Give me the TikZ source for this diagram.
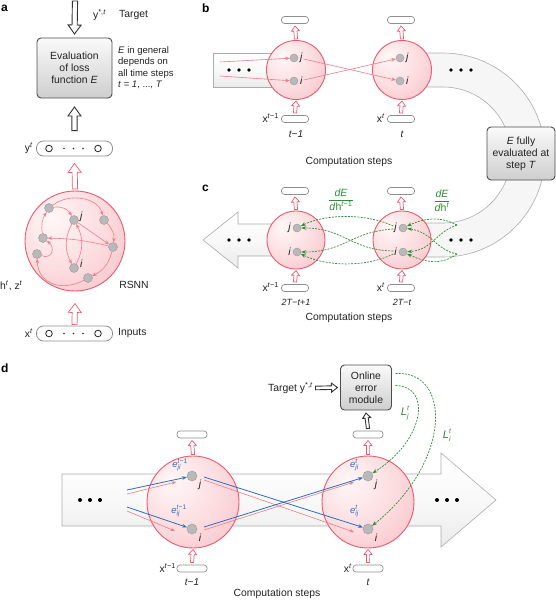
\documentclass[tikz,border=0pt]{standalone}
\usepackage{fontspec}
\setmainfont{Liberation Sans}
\usetikzlibrary{calc,arrows.meta}
\definecolor{pk}{HTML}{EA5A6E}
\definecolor{pkl}{HTML}{F07C8B}
\definecolor{pkin}{HTML}{FFF7F7}
\definecolor{pkmid}{HTML}{FCDDE0}
\definecolor{pkout}{HTML}{F6B2BA}
\definecolor{gn}{HTML}{2E8B3A}
\definecolor{bl}{HTML}{2F6DB8}
\definecolor{bdr}{HTML}{8E8E8E}
\definecolor{txtc}{HTML}{222222}
\pgfdeclareradialshading{pinkball}{\pgfpoint{-12bp}{12bp}}{color(0bp)=(pkin); color(22bp)=(pkmid); color(52bp)=(pkout); color(70bp)=(pkout)}
\newcommand\myfs[1]{\fontsize{#1}{#1}\selectfont}
\newcommand\hollow[6]{%
  \coordinate (hbase) at ($(#3)!#6!(#2)$);
  \draw[#1] ($(#2)!#4!90:(#3)$) -- ($(hbase)!#4!90:(#3)$) -- ($(hbase)!#5!90:(#3)$) -- (#3) -- ($(hbase)!#5!-90:(#3)$) -- ($(hbase)!#4!-90:(#3)$) -- ($(#2)!#4!-90:(#3)$) -- cycle;}
\begin{document}
\begin{tikzpicture}[x=1pt,y=-1pt,
  txt/.style={inner sep=0pt, text=txtc, font=\myfs{10.4}},
  sm/.style={inner sep=0pt, text=txtc, font=\myfs{9.5}},
  lab/.style={inner sep=0pt, text=black, font=\bfseries\myfs{12}},
  bigc/.style={circle, draw=pk, line width=0.9pt, shading=pinkball, inner sep=0pt, outer sep=1.5pt},
  sbar/.style={rounded corners=3pt, draw=bdr, line width=0.7pt, fill=white, minimum width=27pt, minimum height=7pt, inner sep=0pt, outer sep=2.5pt},
  wbar/.style={rounded corners=7pt, draw=bdr, line width=0.8pt, fill=white, minimum width=76pt, minimum height=15pt, inner sep=0pt},
  gdot/.style={circle, fill=gray!55, draw=gray!80, line width=0.4pt, minimum size=8pt, inner sep=0pt},
  graybox/.style={draw=black!70, line width=0.9pt, rounded corners=4pt, top color=gray!4, bottom color=gray!38, align=center, inner sep=0pt, text=txtc, font=\myfs{10.4}},
  parr/.style={draw=pkl, line width=0.6pt, -{Stealth[length=4.5pt,width=3.5pt]}},
  garr/.style={draw=gn, line width=0.7pt, dash pattern=on 2pt off 1.2pt, -{Stealth[length=5pt,width=3.6pt]}},
  barr/.style={draw=bl, line width=0.8pt, -{Stealth[length=5pt,width=3.6pt]}},
  hpk/.style={draw=pk, fill=white, line width=0.7pt},
  hbk/.style={draw=black!80, fill=white, line width=0.9pt},
  band/.style={draw=gray!65, line width=0.6pt, top color=white, bottom color=gray!16, middle color=gray!5},
  ubandst/.style={draw=gray!65, line width=0.6pt, fill=gray!7},
  gtxt/.style={inner sep=0pt, text=gn, font=\myfs{10.5}},
  btxt/.style={inner sep=0pt, text=bl, font=\myfs{9.5}}]
\useasboundingbox (0,0) rectangle (556,600);

% ================= panel a =================
\node[lab, anchor=west] (la) at (1,8) {a};
\node[graybox, minimum width=75pt, minimum height=60pt, outer sep=4pt] (ebox) at (74.5,68) {Evaluation\\[1.5pt]of loss\\[1.5pt]function \textit{E}};
\coordinate (ta) at (75,1);
\hollow{hbk}{ta}{ebox.north}{2.6pt}{6.5pt}{9pt}
\node[txt, anchor=west] (ytgt) at (93,15) {y\textsuperscript{*,\textit{t}}};
\node[txt, anchor=west] (tgt) at (119,15) {Target};
\node[sm, anchor=north west, align=left, font=\myfs{9.5}, text depth=0pt] (egen) at (118,46) {\textit{E} in general\\[2pt]depends on\\[2pt]all time steps\\[2pt]\textit{t} = \textit{1}, ..., \textit{T}};
\node[wbar] (ybar) at (74.5,148.5) {};
\node[txt, anchor=east] (ylab) at (33,148) {y\textsuperscript{\textit{t}}};
\draw[black!85, line width=0.8pt] (49,148.5) circle (3.3) (98,148.5) circle (3.3);
\fill[black!85] (64,148.5) circle (0.9) (73.5,148.5) circle (0.9) (83,148.5) circle (0.9);
\coordinate (ya1) at ($(ybar.north)+(0,-10)$);
\coordinate (ya2) at ($(ebox.south)+(0,5)$);
\hollow{hbk}{ya1}{ya2}{2.6pt}{6.5pt}{9pt}

\node[bigc, minimum size=100pt] (rsnn) at (75,241) {};
\coordinate (pa1) at ($(rsnn.north)+(0,-0.5)$);
\coordinate (pa2) at ($(ybar.south)+(0,7)$);
\hollow{hpk}{pa1}{pa2}{2.6pt}{6.5pt}{9pt}
\node[gdot, minimum size=9pt] (r1) at (49,208) {};
\node[gdot, minimum size=9pt] (rj) at (74,220) {};
\node[gdot, minimum size=9pt] (r3) at (104,220) {};
\node[gdot, minimum size=9pt] (r4) at (43,238) {};
\node[gdot, minimum size=9pt] (r5) at (113,247) {};
\node[gdot, minimum size=9pt] (r6) at (37,254) {};
\node[gdot, minimum size=9pt] (ri) at (74,268) {};
\node[gdot, minimum size=9pt] (r8) at (88,278) {};
\node[txt, anchor=west, font=\itshape\myfs{10.4}] (lrj) at (80,217) {j};
\node[txt, anchor=west, font=\itshape\myfs{10.4}] (lri) at (80,264) {i};
\draw[parr] (r1) to[bend left=35] (rj);
\draw[parr] (r1) .. controls (70,192) and (98,198) .. (r3);
\draw[parr] (r3) to[bend left=25] (r5);
\draw[parr] (rj) -- (r5);
\draw[parr] (rj) to[bend right=28] (ri);
\draw[parr] (ri) to[bend right=28] (rj);
\draw[parr] (r5) to[bend right=6] (r4);
\draw[parr] (r4) to[bend left=20] (r1);
\draw[parr] (r6) .. controls (53,260) and (55,247) .. (r4);
\draw[parr] (r5) to[bend left=25] (r8);
\draw[parr] (r8) .. controls (62,292) and (38,284) .. (r6);
\node[txt, anchor=west] (hz) at (0,286) {h\textsuperscript{\textit{t}}, z\textsuperscript{\textit{t}}};
\node[txt] (rsl) at (134,285) {RSNN};

\node[wbar] (xbar) at (74.5,333.5) {};
\node[txt, anchor=east] (xlab) at (33,333) {x\textsuperscript{\textit{t}}};
\draw[black!85, line width=0.8pt] (49,333.5) circle (3.3) (98,333.5) circle (3.3);
\fill[black!85] (64,333.5) circle (0.9) (73.5,333.5) circle (0.9) (83,333.5) circle (0.9);
\node[txt, anchor=west] (inp) at (118,333) {Inputs};
\coordinate (xa1) at ($(xbar.north)+(0,-1)$);
\coordinate (xa2) at ($(rsnn.south)+(0,11)$);
\hollow{hpk}{xa1}{xa2}{2.6pt}{6.5pt}{9pt}

% ================= panel b / c background bands =================
\node[lab, anchor=west] (lb) at (202,8) {b};
\node[lab, anchor=west] (lc) at (202,188) {c};
\path[band] (213,53) -- (296,53) -- (296,87) -- (213,87) -- cycle;
\path[ubandst] (402,53) -- (443,53) arc[start angle=-90, end angle=90, radius=102] -- (402,257) -- (402,223) -- (443,223) arc[start angle=90, end angle=-90, radius=68] -- (402,87) -- cycle;
\path[band] (296,224) -- (238,224) -- (238,212) -- (203,240) -- (238,268) -- (238,256) -- (296,256) -- cycle;
\node[graybox, minimum width=68pt, minimum height=53pt] (efull) at (521,153.5) {\textit{E} fully\\[1.5pt]evaluated at\\[1.5pt]step \textit{T}};
\fill (229,70) circle (1.9) (239,70) circle (1.9) (249,70) circle (1.9);
\fill (451,70) circle (1.9) (461,70) circle (1.9) (471,70) circle (1.9);
\fill (229,240) circle (1.9) (239,240) circle (1.9) (249,240) circle (1.9);
\fill (451,240) circle (1.9) (461,240) circle (1.9) (471,240) circle (1.9);

% ================= panel b =================
\node[bigc, minimum size=59pt] (cb1) at (296,70) {};
\node[bigc, minimum size=59pt] (cb2) at (402,70) {};
\node[sbar] (tb1) at (295,20) {};
\node[sbar] (tb2) at (401,20) {};
\node[sbar] (bb1) at (295,119) {};
\node[sbar] (bb2) at (401,119) {};
\hollow{hpk}{cb1.north}{tb1.south}{1.6pt}{4pt}{5pt}
\hollow{hpk}{cb2.north}{tb2.south}{1.6pt}{4pt}{5pt}
\hollow{hpk}{bb1.north}{cb1.south}{1.6pt}{4pt}{5pt}
\hollow{hpk}{bb2.north}{cb2.south}{1.6pt}{4pt}{5pt}
\node[gdot] (b1j) at (294,58) {};
\node[gdot] (b1i) at (294,81) {};
\node[gdot] (b2j) at (400,58) {};
\node[gdot] (b2i) at (400,81) {};
\node[txt, anchor=west, font=\itshape\myfs{10.4}] (lb1j) at (300,58) {j};
\node[txt, anchor=west, font=\itshape\myfs{10.4}] (lb1i) at (300,81) {i};
\node[txt, anchor=west, font=\itshape\myfs{10.4}] (lb2j) at (406,58) {j};
\node[txt, anchor=west, font=\itshape\myfs{10.4}] (lb2i) at (406,81) {i};
\coordinate (bs1) at (220,62);
\coordinate (bs2) at (220,76);
\draw[parr] (bs1) -- (b1j);
\draw[parr] (bs2) -- (b1i);
\draw[parr] ($(lb1j.east)+(1,1)$) -- (b2i);
\draw[parr] ($(lb1i.east)+(1,-1)$) -- (b2j);
\node[txt, anchor=east] (xb1) at (279,118) {x\textsuperscript{\textit{t}−1}};
\node[txt, anchor=east] (xb2) at (385,118) {x\textsuperscript{\textit{t}}};
\node[txt, font=\itshape\myfs{10}] (tb1l) at (296,134) {t−1};
\node[txt, font=\itshape\myfs{10}] (tb2l) at (402,134) {t};
\node[txt] (cs1) at (349,162) {Computation steps};

% ================= panel c =================
\node[bigc, minimum size=58pt] (cc1) at (296,240) {};
\node[bigc, minimum size=58pt] (cc2) at (402,240) {};
\node[sbar] (tc1) at (295,191) {};
\node[sbar] (tc2) at (401,191) {};
\node[sbar] (bc1) at (295,288) {};
\node[sbar] (bc2) at (401,288) {};
\hollow{hpk}{cc1.north}{tc1.south}{1.6pt}{4pt}{5pt}
\hollow{hpk}{cc2.north}{tc2.south}{1.6pt}{4pt}{5pt}
\hollow{hpk}{bc1.north}{cc1.south}{1.6pt}{4pt}{5pt}
\hollow{hpk}{bc2.north}{cc2.south}{1.6pt}{4pt}{5pt}
\node[gdot] (c1j) at (297,228) {};
\node[gdot] (c1i) at (297,252) {};
\node[gdot] (c2j) at (403,228) {};
\node[gdot] (c2i) at (403,252) {};
\node[txt, anchor=east, font=\itshape\myfs{10.4}] (lc1j) at (291,228) {j};
\node[txt, anchor=east, font=\itshape\myfs{10.4}] (lc1i) at (291,252) {i};
\node[txt, anchor=east, font=\itshape\myfs{10.4}] (lc2j) at (397,228) {j};
\node[txt, anchor=east, font=\itshape\myfs{10.4}] (lc2i) at (397,252) {i};
\draw[garr] ($(lc2j.west)+(-1,-2)$) .. controls (365,213) and (325,214) .. (c1j);
\draw[garr] ($(lc2j.west)+(-1,1)$) .. controls (350,232) and (345,252) .. (c1i);
\draw[garr] ($(lc2i.west)+(-1,-1)$) .. controls (350,250) and (345,228) .. (c1j);
\draw[garr] ($(lc2i.west)+(-1,2)$) .. controls (365,268) and (325,266) .. (c1i);
\coordinate (gs1) at (457,225);
\coordinate (gs2) at (457,254);
\draw[garr] (gs1) .. controls (440,216) and (425,218) .. (c2j);
\draw[garr] (gs1) .. controls (436,232) and (432,250) .. (c2i);
\draw[garr] (gs2) .. controls (436,250) and (432,232) .. (c2j);
\draw[garr] (gs2) .. controls (440,266) and (425,262) .. (c2i);
\node[gtxt] (fr1) at (341,201) {\renewcommand\arraystretch{0.95}\begin{tabular}{@{}c@{}}\textit{dE}\\\hline\rule{0pt}{10pt}\textit{d}h\textsuperscript{\textit{t}−1}\end{tabular}};
\node[gtxt] (fr2) at (442,202) {\renewcommand\arraystretch{0.95}\begin{tabular}{@{}c@{}}\textit{dE}\\\hline\rule{0pt}{10pt}\textit{d}h\textsuperscript{\textit{t}}\end{tabular}};
\node[txt, anchor=east] (xc1) at (279,287) {x\textsuperscript{\textit{t}−1}};
\node[txt, anchor=east] (xc2) at (385,287) {x\textsuperscript{\textit{t}}};
\node[txt, font=\itshape\myfs{9}] (tc1l) at (296,302) {2T−t+1};
\node[txt, font=\itshape\myfs{9}] (tc2l) at (402,302) {2T−t};
\node[txt] (cs2) at (349,318) {Computation steps};

% ================= panel d =================
\node[lab, anchor=west] (ld) at (1,368) {d};
\path[band] (62,474) -- (441,474) -- (441,453) -- (496,500) -- (441,547) -- (441,526) -- (62,526) -- cycle;
\fill (80,500) circle (2) (90,500) circle (2) (100,500) circle (2);
\fill (437,500) circle (2) (447,500) circle (2) (457,500) circle (2);
\node[graybox, minimum width=51pt, minimum height=45pt, outer sep=3pt] (oem) at (366,387.5) {Online\\[1.5pt]error\\[1.5pt]module};
\node[txt, anchor=east] (tgtd) at (313,388) {Target y\textsuperscript{*,\textit{t}}};
\coordinate (tg1) at ($(tgtd.east)+(2.5,0)$);
\hollow{hbk}{tg1}{oem.west}{1.8pt}{4.5pt}{6pt}
\node[bigc, minimum size=92pt] (cdl) at (193,502) {};
\node[bigc, minimum size=92pt] (cdr) at (368,502) {};
\node[sbar, minimum width=30pt] (tdl) at (192,434.5) {};
\node[sbar, minimum width=30pt] (tdr) at (368,434.5) {};
\node[sbar, minimum width=30pt] (bdl) at (192,568.5) {};
\node[sbar, minimum width=30pt] (bdr) at (368,568.5) {};
\hollow{hbk}{tdr.north}{oem.south}{1.6pt}{4pt}{5pt}
\hollow{hpk}{cdl.north}{tdl.south}{1.6pt}{4pt}{5pt}
\hollow{hpk}{cdr.north}{tdr.south}{1.6pt}{4pt}{5pt}
\hollow{hpk}{bdl.north}{cdl.south}{1.6pt}{4pt}{5pt}
\hollow{hpk}{bdr.north}{cdr.south}{1.6pt}{4pt}{5pt}
\node[gdot, minimum size=10pt] (dlj) at (192,476) {};
\node[gdot, minimum size=10pt] (dli) at (192,529) {};
\node[gdot, minimum size=10pt] (drj) at (368,476) {};
\node[gdot, minimum size=10pt] (dri) at (368,529) {};
\node[txt, font=\itshape\myfs{10.4}] (ldlj) at (200,485) {j};
\node[txt, font=\itshape\myfs{10.4}] (ldli) at (200,538) {i};
\node[txt, font=\itshape\myfs{10.4}] (ldrj) at (376,485) {j};
\node[txt, font=\itshape\myfs{10.4}] (ldri) at (376,538) {i};
\node[btxt] (el1) at (180,465) {\textit{e}\rlap{\textsubscript{\textit{ji}}}\textsuperscript{\textit{t}−1}};
\node[btxt] (el2) at (179,511) {\textit{e}\rlap{\textsubscript{\textit{ij}}}\textsuperscript{\textit{t}−1}};
\node[btxt] (er1) at (354,465) {\textit{e}\rlap{\textsubscript{\textit{ji}}}\textsuperscript{\textit{t}}};
\node[btxt] (er2) at (354,511) {\textit{e}\rlap{\textsubscript{\textit{ij}}}\textsuperscript{\textit{t}}};
% arrows from band
\coordinate (ds1) at (127,490);
\coordinate (ds2) at (127,494);
\coordinate (ds3) at (127,507);
\coordinate (ds4) at (127,511);
\coordinate (pe1) at ($(dlj)+(-16,6)$);
\coordinate (pe2) at ($(dli)+(-17,2)$);
\draw[parr] (ds2) -- (pe1);
\draw[parr] (ds4) -- (pe2);
\draw[barr] (ds1) -- (dlj);
\draw[barr] (ds3) -- (dli);
% cross arrows
\coordinate (xs1) at ($(dlj)+(12,1)$);
\coordinate (xs2) at ($(dlj)+(12,4)$);
\coordinate (xs3) at ($(dli)+(12,-2)$);
\coordinate (xs4) at ($(dli)+(12,1)$);
\coordinate (pe3) at ($(dri)+(-14,3)$);
\coordinate (pe4) at ($(drj)+(-14,6)$);
\draw[parr] (xs2) -- (pe3);
\draw[parr] (xs4) -- (pe4);
\draw[barr] (xs1) -- (dri);
\draw[barr] (xs3) -- (drj);
% green
\coordinate (go1) at ($(oem.east)+(1,-14)$);
\coordinate (go2) at ($(oem.east)+(1,-2)$);
\draw[garr] (go2) .. controls (432,386) and (425,440) .. (drj);
\draw[garr] (go1) .. controls (452,370) and (452,462) .. (dri);
\node[gtxt, font=\itshape\myfs{11}] (lj) at (405,413) {L\rlap{\raisebox{-3pt}{\myfs{7}j}}\raisebox{5pt}{\myfs{7}t}};
\node[gtxt, font=\itshape\myfs{11}] (li) at (447,435) {L\rlap{\raisebox{-3pt}{\myfs{7}i}}\raisebox{5pt}{\myfs{7}t}};
\node[txt, anchor=east] (xd1) at (176,568) {x\textsuperscript{\textit{t}−1}};
\node[txt, anchor=east] (xd2) at (352,568) {x\textsuperscript{\textit{t}}};
\node[txt, font=\itshape\myfs{10}] (td1) at (192,582) {t−1};
\node[txt, font=\itshape\myfs{10}] (td2) at (368,582) {t};
\node[txt] (cs3) at (277,594) {Computation steps};
\end{tikzpicture}
\end{document}
